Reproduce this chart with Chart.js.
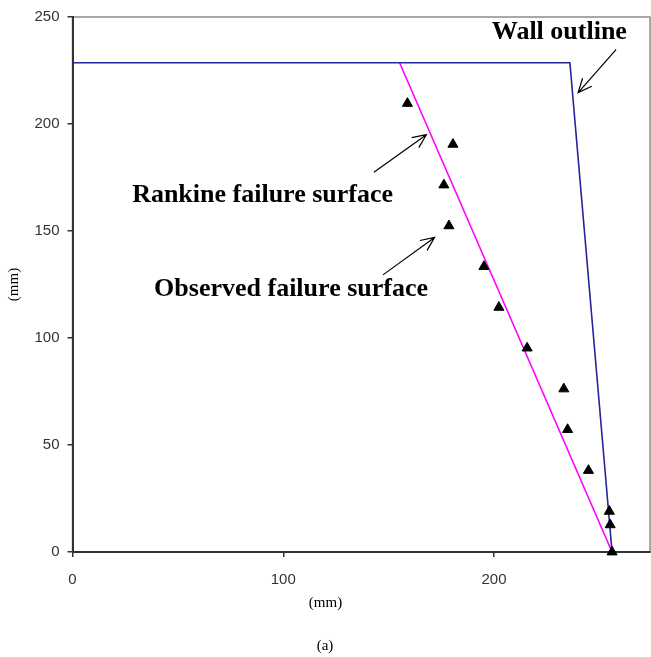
<!DOCTYPE html>
<html>
<head>
<meta charset="utf-8">
<script src="https://cdn.jsdelivr.net/npm/chart.js@4.4.1/dist/chart.umd.min.js"></script>
<style>
  html, body { margin: 0; padding: 0; background: #fff; }
  #wrap { width: 651px; height: 657px; position: relative; }
</style>
</head>
<body>
<div id="wrap"><canvas id="chart" width="651" height="657"></canvas></div>
<script>
// observed failure surface (triangles), mm
const observedX = [158.9, 180.5, 176.2, 178.6, 195.2, 202.3, 215.7, 233.1, 234.9, 244.8, 254.7, 255.1, 256.0];
const observedY = [209.6, 190.5, 171.5, 152.4, 133.4, 114.3, 95.3, 76.2, 57.2, 38.1, 19.0, 12.7, 0];

// wall outline
const wallX = [0, 236.0, 256.0];
const wallY = [228.6, 228.6, 0];

// rankine failure surface
const rankineX = [155.2, 256.0];
const rankineY = [228.6, 0];

const xTicks = [0, 100, 200];
const yTicks = [0, 50, 100, 150, 200, 250];

// labels and arrows, in data units
const noteTexts = ['Wall outline', 'Rankine failure surface', 'Observed failure surface'];
const noteX = [231.0, 90.2, 103.7];
const noteY = [242.8, 166.7, 122.7];
const arrowFrom = [[257.9, 234.8], [143.0, 177.5], [147.3, 129.5]];
const arrowTo = [[239.9, 214.7], [167.9, 195.0], [171.8, 147.0]];

function toPoints(xs, ys) {
    return xs.map((x, i) => ({ x: x, y: ys[i] }));
}

const tickFont = { family: '"Liberation Sans", Arial, sans-serif', size: 15 };
const titleFont = { family: '"Liberation Serif", "Times New Roman", serif', size: 15 };

const frame = {
    id: 'frame',
    beforeDraw(chart) {
        const { ctx, chartArea: a } = chart;
        ctx.save();
        ctx.fillStyle = '#fff';
        ctx.fillRect(0, 0, chart.width, chart.height);
        ctx.strokeStyle = '#8c8c8c';
        ctx.lineWidth = 1.5;
        ctx.strokeRect(a.left, a.top, a.right - a.left, a.bottom - a.top);
        ctx.restore();
    }
};

const notes = {
    id: 'notes',
    afterDatasetsDraw(chart) {
        const ctx = chart.ctx;
        const xs = chart.scales.x, ys = chart.scales.y;
        ctx.save();
        ctx.fillStyle = '#000';
        ctx.font = 'bold 26px "Liberation Serif", "Times New Roman", serif';
        ctx.textAlign = 'center';
        ctx.textBaseline = 'middle';
        noteTexts.forEach((t, i) => {
            ctx.fillText(t, xs.getPixelForValue(noteX[i]), ys.getPixelForValue(noteY[i]));
        });

        // x axis title sits centred on the page, not on the plot
        ctx.font = titleFont.size + 'px ' + titleFont.family;
        ctx.fillText('(mm)', chart.width / 2, xs.bottom - 34);

        ctx.strokeStyle = '#000';
        ctx.lineWidth = 1.2;
        arrowFrom.forEach((f, i) => {
            const x1 = xs.getPixelForValue(f[0]), y1 = ys.getPixelForValue(f[1]);
            const x2 = xs.getPixelForValue(arrowTo[i][0]), y2 = ys.getPixelForValue(arrowTo[i][1]);
            const ang = Math.atan2(y2 - y1, x2 - x1);
            const len = 15, spread = 0.42;
            ctx.beginPath();
            ctx.moveTo(x1, y1);
            ctx.lineTo(x2, y2);
            ctx.moveTo(x2 - len * Math.cos(ang - spread), y2 - len * Math.sin(ang - spread));
            ctx.lineTo(x2, y2);
            ctx.lineTo(x2 - len * Math.cos(ang + spread), y2 - len * Math.sin(ang + spread));
            ctx.stroke();
        });
        ctx.restore();
    }
};

new Chart(document.getElementById('chart'), {
    type: 'scatter',
    data: {
        datasets: [
            {
                label: 'Observed failure surface',
                data: toPoints(observedX, observedY),
                pointStyle: 'triangle',
                pointRadius: 5.8,
                pointBackgroundColor: '#000',
                pointBorderColor: '#000',
                pointBorderWidth: 1,
                showLine: false,
                clip: false
            },
            {
                label: 'Wall outline',
                data: toPoints(wallX, wallY),
                showLine: true,
                borderColor: '#23239a',
                borderWidth: 1.6,
                pointRadius: 0,
                tension: 0
            },
            {
                label: 'Rankine failure surface',
                data: toPoints(rankineX, rankineY),
                showLine: true,
                borderColor: '#ff00ff',
                borderWidth: 1.6,
                pointRadius: 0,
                tension: 0
            }
        ]
    },
    options: {
        responsive: false,
        animation: false,
        layout: { autoPadding: false, padding: { top: 14, right: 1, left: 0, bottom: 0 } },
        plugins: {
            legend: { display: false },
            tooltip: { enabled: false },
            title: {
                display: true,
                position: 'bottom',
                text: '(a)',
                color: '#000',
                font: { family: titleFont.family, size: 15, weight: 'normal' },
                padding: { top: 0, bottom: 2 }
            }
        },
        scales: {
            x: {
                type: 'linear',
                min: 0,
                max: 274,
                afterFit(scale) { scale.height = 85; },
                afterBuildTicks(scale) { scale.ticks = xTicks.map(v => ({ value: v })); },
                ticks: { color: '#333', font: tickFont, padding: 14, includeBounds: false },
                grid: { display: true, drawOnChartArea: false, drawTicks: true, tickLength: 5, color: '#333', lineWidth: 1.5 },
                border: { display: true, color: '#333', width: 2 },
                title: { display: false }
            },
            y: {
                type: 'linear',
                min: 0,
                max: 250,
                afterFit(scale) { scale.width = 72.5; },
                afterBuildTicks(scale) { scale.ticks = yTicks.map(v => ({ value: v })); },
                ticks: { color: '#333', font: tickFont, padding: 8 },
                grid: { display: true, drawOnChartArea: false, drawTicks: true, tickLength: 5, color: '#333', lineWidth: 1.5 },
                border: { display: true, color: '#333', width: 2 },
                title: { display: true, text: '(mm)', color: '#000', font: titleFont, padding: { top: 5, bottom: 0 } }
            }
        }
    },
    plugins: [frame, notes]
});
</script>
</body>
</html>
